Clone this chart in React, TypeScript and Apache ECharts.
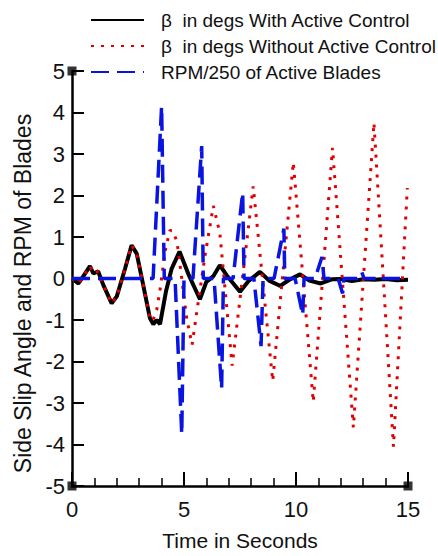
import React, { useEffect, useRef } from "react";
import * as echarts from "echarts";

// ---- Data ----
const xTicks = ["0", "5", "10", "15"];
const yTicks = ["-5", "-4", "-3", "-2", "-1", "0", "1", "2", "3", "4", "5"];

const seriesNames = [
  "\u03b2  in degs With Active Control",
  "\u03b2  in degs Without Active Control",
  "RPM/250 of Active Blades",
];

// beta with active control (seconds, degrees)
const timeWith = [
  0, 0.28, 0.5, 0.8, 0.95, 1.17, 1.4, 1.77, 2.0, 2.37, 2.66, 2.89, 3.18, 3.48,
  3.63, 3.78, 3.93, 4.2, 4.45, 4.8, 5.2, 5.71, 6.0, 6.3, 6.6, 6.9, 7.5, 7.9,
  8.39, 8.8, 9.3, 9.7, 10.18, 10.6, 11.1, 11.6, 12.0, 12.5, 13.0, 13.5, 14.0,
  14.5, 15.0,
];
const betaWith = [
  0, -0.12, 0.05, 0.3, 0.12, 0.17, -0.16, -0.6, -0.43, 0.24, 0.8, 0.6, -0.16,
  -0.96, -1.1, -1.0, -1.1, -0.3, 0.24, 0.65, 0.1, -0.5, -0.08, 0.05, 0.32, 0.08,
  -0.32, -0.05, 0.16, -0.05, -0.18, -0.03, 0.1, -0.05, -0.12, -0.02, -0.01,
  -0.06, -0.02, -0.03, -0.01, -0.04, -0.03,
];

// beta without active control
const timeWithout = [
  0, 0.28, 0.5, 0.8, 0.95, 1.17, 1.4, 1.77, 2.0, 2.37, 2.66, 2.89, 3.18, 3.48,
  3.6, 3.78, 3.95, 4.15, 4.37, 4.5, 4.69, 4.9, 5.12, 5.36, 5.6, 5.94, 6.31,
  6.6, 7.15, 8.09, 8.96, 9.88, 10.77, 11.63, 12.56, 13.48, 14.35, 14.97,
];
const betaWithout = [
  0, -0.12, 0.05, 0.3, 0.12, 0.17, -0.16, -0.6, -0.43, 0.24, 0.8, 0.6, -0.16,
  -0.96, -1.02, -0.76, -0.2, 0.64, 1.16, 1.15, 0.88, 0.0, -0.96, -1.6, -0.7,
  0.56, 1.75, 1.1, -2.1, 2.22, -2.47, 2.8, -2.97, 3.15, -3.59, 3.75, -4.05, 2.18,
];

// RPM / 250 of active blades
const timeRpm = [
  0, 3.62, 4.0, 4.12, 4.6, 4.9, 5.0, 5.4, 5.79, 5.86, 6.34, 6.68, 6.76, 7.19,
  7.62, 7.68, 8.12, 8.44, 8.53, 9.02, 9.46, 9.5, 9.96, 10.3, 10.36, 10.85,
  11.16, 11.25, 11.88, 12.08, 12.14, 12.72, 12.93, 13.04, 13.6, 13.75, 13.9, 15.0,
];
const rpm = [
  0, 0, 4.15, 0, 0, -3.75, 0, 0, 3.19, 0, 0, -2.65, 0, 0, 2.07, 0, 0, -1.63, 0,
  0, 1.2, 0, 0, -0.88, 0, 0, 0.52, 0, 0, -0.36, 0, 0, 0.16, 0, 0, 0.06, 0, 0,
];

// corner markers of the frame
const cornerPoints = [
  [0, 5],
  [0, -5],
  [15, -5],
];

const zip = (t: number[], v: number[]) => t.map((x, i) => [x, v[i]]);

const FONT = "Liberation Sans, Arial, Helvetica, sans-serif";

export default function App() {
  const ref = useRef<HTMLDivElement>(null);
  useEffect(() => {
    if (!ref.current) return;
    const chart = echarts.init(ref.current, undefined, { renderer: "svg" });
    chart.setOption({
      animation: false,
      backgroundColor: "#ffffff",
      textStyle: { fontFamily: FONT },
      legend: {
        orient: "vertical",
        left: 90,
        top: 10,
        padding: 0,
        itemWidth: 53,
        itemHeight: 14,
        itemGap: 6,
        data: seriesNames,
        itemStyle: { color: "rgba(0,0,0,0)", borderWidth: 0, opacity: 0 },
        textStyle: {
          fontFamily: FONT,
          fontSize: 19,
          lineHeight: 20,
          color: "#111",
          padding: [0, 0, 0, 12],
        },
      },
      grid: { left: 72, right: 30, top: 71, bottom: 66 },
      xAxis: {
        type: "value",
        min: 0,
        max: 15,
        interval: 5,
        name: "Time in Seconds",
        nameLocation: "middle",
        nameGap: 44,
        nameTextStyle: { fontFamily: FONT, fontSize: 21, color: "#111" },
        axisLine: {
          show: true,
          onZero: false,
          lineStyle: { color: "#000", width: 2.5 },
        },
        axisTick: {
          show: true,
          inside: true,
          length: 14,
          lineStyle: { color: "#000", width: 2 },
        },
        minorTick: {
          show: true,
          splitNumber: 5,
          length: 8,
          lineStyle: { color: "#000", width: 1.5 },
        },
        axisLabel: {
          margin: 12,
          fontFamily: FONT,
          fontSize: 22,
          color: "#111",
          formatter: (v: number) => xTicks[xTicks.indexOf(String(v))] ?? "",
        },
        splitLine: { show: false },
      },
      yAxis: {
        type: "value",
        min: -5,
        max: 5,
        interval: 1,
        name: "Side Slip Angle and RPM of Blades",
        nameLocation: "middle",
        nameRotate: 90,
        nameGap: 38,
        nameTextStyle: {
          fontFamily: FONT,
          fontSize: 23,
          color: "#111",
          padding: [0, 30, 0, 0],
        },
        axisLine: {
          show: true,
          onZero: false,
          lineStyle: { color: "#000", width: 2.5 },
        },
        axisTick: {
          show: true,
          inside: true,
          length: 12,
          lineStyle: { color: "#000", width: 2 },
        },
        axisLabel: {
          margin: 7,
          fontFamily: FONT,
          fontSize: 22,
          color: "#111",
          formatter: (v: number) => yTicks[yTicks.indexOf(String(v))] ?? "",
        },
        splitLine: { show: false },
      },
      series: [
        {
          name: seriesNames[0],
          type: "line",
          data: zip(timeWith, betaWith),
          showSymbol: false,
          symbol: "none",
          lineStyle: { color: "#000", width: 4 },
          itemStyle: { color: "#000" },
          z: 2,
        },
        {
          name: seriesNames[1],
          type: "line",
          data: zip(timeWithout, betaWithout),
          showSymbol: false,
          symbol: "none",
          lineStyle: {
            color: "#e00000",
            width: 3,
            type: [3, 7],
            cap: "butt",
          },
          itemStyle: { color: "#e00000" },
          z: 3,
        },
        {
          name: seriesNames[2],
          type: "line",
          data: zip(timeRpm, rpm),
          showSymbol: false,
          symbol: "none",
          lineStyle: {
            color: "#0a14e0",
            width: 3.5,
            type: [18, 8],
            cap: "butt",
          },
          itemStyle: { color: "#0a14e0" },
          z: 4,
        },
        {
          name: "corners",
          type: "scatter",
          data: cornerPoints,
          symbol: "rect",
          symbolSize: 9,
          itemStyle: { color: "#000" },
          silent: true,
          clip: false,
          z: 10,
        },
      ],
    });
    return () => chart.dispose();
  }, []);
  return (
    <div
      ref={ref}
      style={{ position: "fixed", left: 0, top: 0, width: 438, height: 556 }}
    />
  );
}
